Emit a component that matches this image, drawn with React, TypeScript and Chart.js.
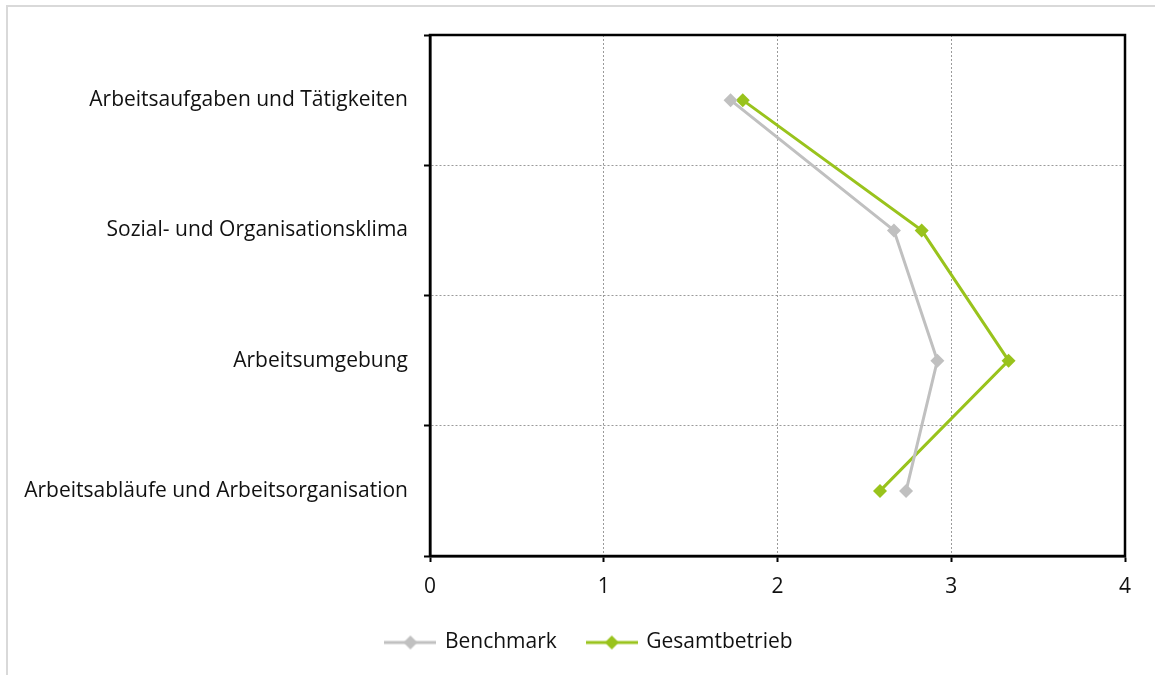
import React, { useEffect, useRef } from "react";
import { Chart, registerables } from "chart.js";

Chart.register(...registerables);

const categories = [
  "Arbeitsaufgaben und Tätigkeiten",
  "Sozial- und Organisationsklima",
  "Arbeitsumgebung",
  "Arbeitsabläufe und Arbeitsorganisation",
];
const benchmark = [1.73, 2.67, 2.92, 2.74];
const gesamtbetrieb = [1.8, 2.83, 3.33, 2.59];
const xTicks = [0, 1, 2, 3, 4];

const GRAY = "#c0c0c0";
const GREEN = "#99c31c";
const FONT = "'Open Sans', 'Noto Sans', sans-serif";

function legendIcon(color: string): HTMLCanvasElement {
  const c = document.createElement("canvas");
  c.width = 52;
  c.height = 16;
  const ctx = c.getContext("2d")!;
  ctx.strokeStyle = color;
  ctx.lineWidth = 3;
  ctx.beginPath();
  ctx.moveTo(0, 8);
  ctx.lineTo(52, 8);
  ctx.stroke();
  ctx.fillStyle = color;
  ctx.beginPath();
  ctx.moveTo(26, 1);
  ctx.lineTo(33, 8);
  ctx.lineTo(26, 15);
  ctx.lineTo(19, 8);
  ctx.closePath();
  ctx.fill();
  return c;
}

const frameBorder = {
  id: "frameBorder",
  afterLayout(chart: any) {
    if (chart.legend) {
      chart.legend.left += 27;
      chart.legend.right += 27;
    }
  },
  afterDraw(chart: any) {
    const { ctx, chartArea } = chart;
    ctx.save();
    ctx.strokeStyle = "#000";
    ctx.lineWidth = 2.5;
    ctx.strokeRect(chartArea.left, chartArea.top, chartArea.right - chartArea.left, chartArea.bottom - chartArea.top);
    ctx.restore();
  },
};

export default function App() {
  const ref = useRef<HTMLCanvasElement>(null);
  useEffect(() => {
    const chart = new Chart(ref.current!, {
      type: "line",
      data: {
        labels: categories,
        datasets: [
          {
            label: "Benchmark",
            data: benchmark,
            borderColor: GRAY,
            backgroundColor: GRAY,
            borderWidth: 3,
            pointStyle: "rectRot",
            pointRadius: 7,
            pointBorderWidth: 0,
            pointBackgroundColor: GRAY,
          },
          {
            label: "Gesamtbetrieb",
            data: gesamtbetrieb,
            borderColor: GREEN,
            backgroundColor: GREEN,
            borderWidth: 3,
            pointStyle: "rectRot",
            pointRadius: 7,
            pointBorderWidth: 0,
            pointBackgroundColor: GREEN,
          },
        ],
      },
      options: {
        indexAxis: "y",
        animation: false,
        responsive: false,
        maintainAspectRatio: false,
        layout: { padding: { top: 35, right: 30, bottom: 12, left: 0 } },
        scales: {
          x: {
            type: "linear",
            min: 0,
            max: 4,
            afterFit: (s: any) => {
              s.height = 45;
            },
            afterBuildTicks: (s: any) => {
              s.ticks = xTicks.map((v) => ({ value: v }));
            },
            ticks: { stepSize: 1, color: "#111", font: { family: FONT, size: 21 }, padding: 12 },
            grid: {
              color: "#9a9a9a",
              lineWidth: 1,
              tickColor: "#000",
              tickBorderDash: [],
              tickLength: 6,
              tickWidth: 2,
            },
            border: { display: true, color: "#000", width: 2.5, dash: [2, 2] },
          },
          y: {
            type: "category",
            offset: true,
            afterFit: (s: any) => {
              s.width = 430;
            },
            ticks: { color: "#111", font: { family: FONT, size: 21 }, padding: 16 },
            grid: {
              offset: true,
              color: "#9a9a9a",
              lineWidth: 1,
              tickColor: "#000",
              tickBorderDash: [],
              tickLength: 6,
              tickWidth: 2,
            },
            border: { display: true, color: "#000", width: 2.5, dash: [2, 2] },
          },
        },
        plugins: {
          tooltip: { enabled: false },
          legend: {
            position: "bottom",
            labels: {
              usePointStyle: true,
              pointStyleWidth: 48,
              boxHeight: 16,
              padding: 31,
              color: "#111",
              font: { family: FONT, size: 21 },
              generateLabels: (chart: any) =>
                chart.data.datasets.map((ds: any, i: number) => ({
                  text: ds.label,
                  fillStyle: ds.borderColor,
                  strokeStyle: ds.borderColor,
                  lineWidth: 0,
                  pointStyle: legendIcon(ds.borderColor),
                  hidden: false,
                  datasetIndex: i,
                  fontColor: "#111",
                })),
            },
          },
        },
      },
      plugins: [frameBorder],
    } as any);
    return () => chart.destroy();
  }, []);
  return (
    <div style={{ position: "absolute", left: 0, top: 0, width: 1155, height: 675, background: "#fff", overflow: "hidden" }}>
      <div
        style={{
          position: "absolute",
          left: 6,
          top: 5,
          width: 1170,
          height: 700,
          border: "2px solid #d9d9d9",
          boxSizing: "border-box",
        }}
      />
      <canvas ref={ref} width={1155} height={675} style={{ position: "absolute", left: 0, top: 0 }} />
    </div>
  );
}
